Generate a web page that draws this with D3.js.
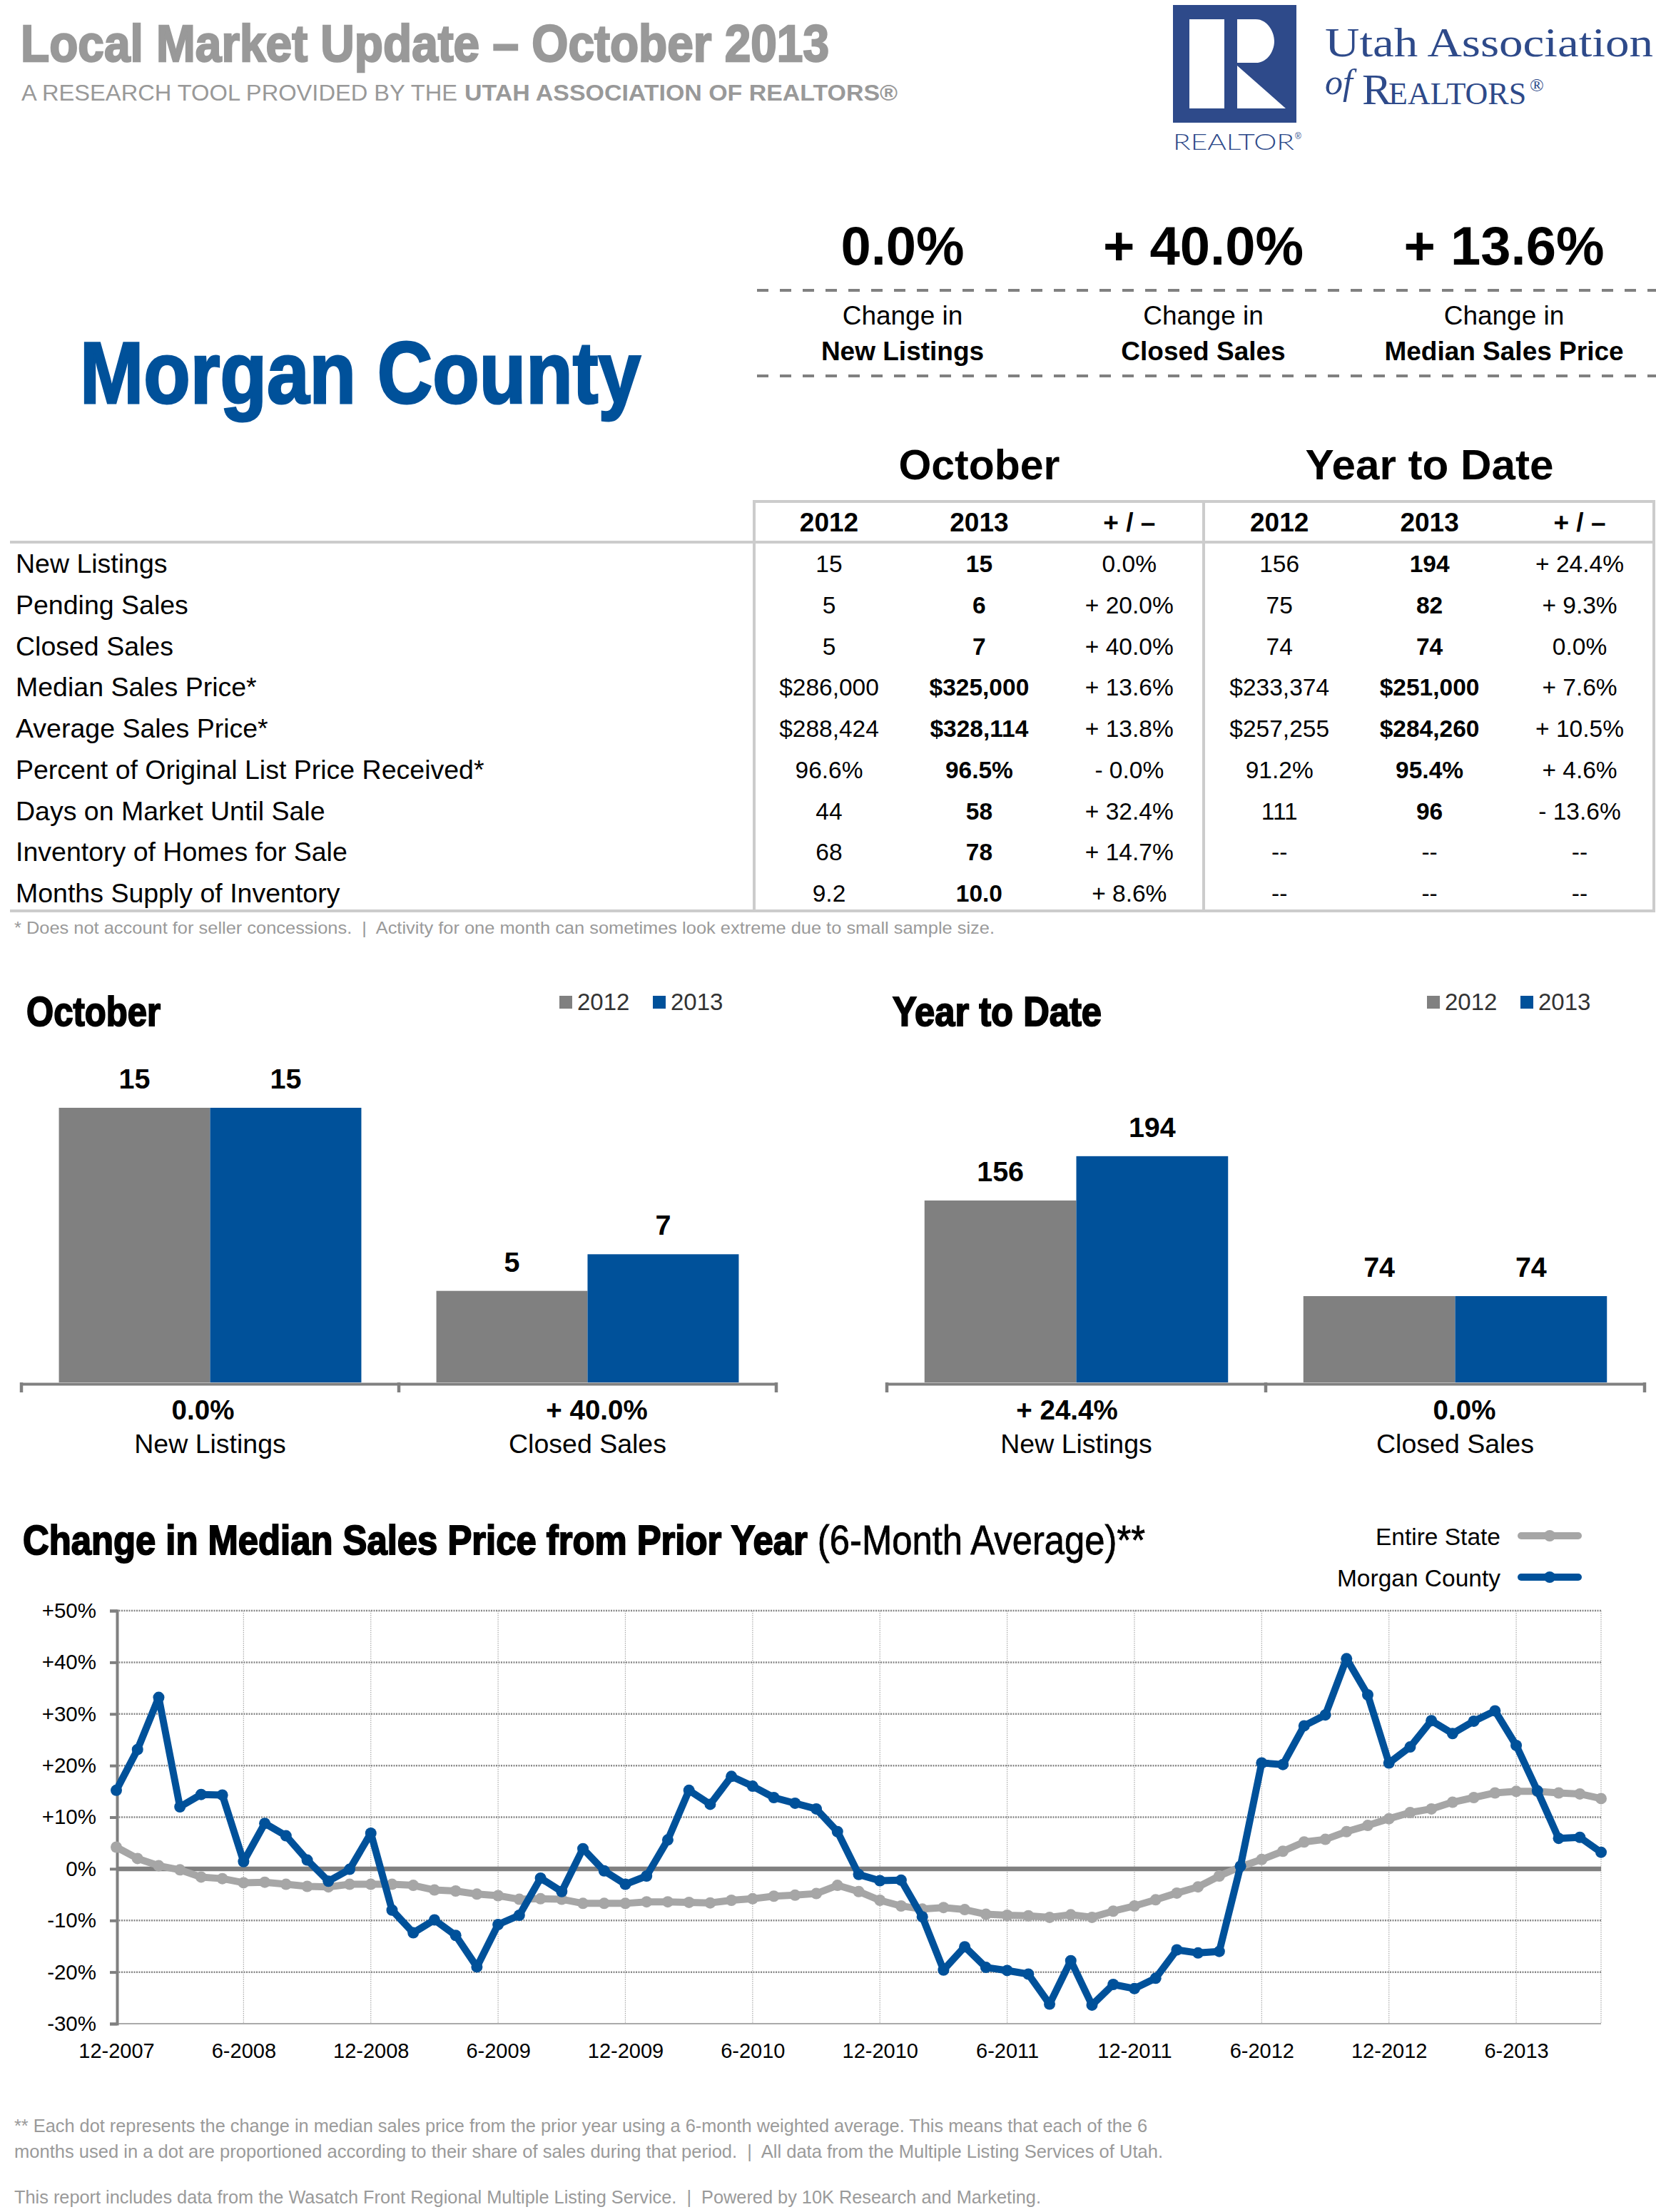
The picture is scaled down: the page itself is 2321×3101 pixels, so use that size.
<!DOCTYPE html>
<html>
<head>
<meta charset="utf-8">
<script src="https://cdn.jsdelivr.net/npm/d3@7"></script>
<style>
    html, body { margin: 0; padding: 0; background: #fff; }
    svg { display: block; }
    text { font-family: 'Liberation Sans', Arial, sans-serif; white-space: pre; }
</style>
</head>
<body>
<div id="page"></div>
<script>
// summary figures
const kpiValues = ['0.0%', '+ 40.0%', '+ 13.6%'];
const kpiLabels = ['New Listings', 'Closed Sales', 'Median Sales Price'];

// table columns
const rowLabels = ['New Listings', 'Pending Sales', 'Closed Sales', 'Median Sales Price*', 'Average Sales Price*',
    'Percent of Original List Price Received*', 'Days on Market Until Sale', 'Inventory of Homes for Sale', 'Months Supply of Inventory'];
const columnHeads = ['2012', '2013', '+ / –', '2012', '2013', '+ / –'];
const octPrev = ['15', '5', '5', '$286,000', '$288,424', '96.6%', '44', '68', '9.2'];
const octCur = ['15', '6', '7', '$325,000', '$328,114', '96.5%', '58', '78', '10.0'];
const octChange = ['0.0%', '+ 20.0%', '+ 40.0%', '+ 13.6%', '+ 13.8%', '- 0.0%', '+ 32.4%', '+ 14.7%', '+ 8.6%'];
const ytdPrev = ['156', '75', '74', '$233,374', '$257,255', '91.2%', '111', '--', '--'];
const ytdCur = ['194', '82', '74', '$251,000', '$284,260', '95.4%', '96', '--', '--'];
const ytdChange = ['+ 24.4%', '+ 9.3%', '0.0%', '+ 7.6%', '+ 10.5%', '+ 4.6%', '- 13.6%', '--', '--'];

// bar panels
const barCategories = ['New Listings', 'Closed Sales'];
const barYears = ['2012', '2013'];
const octBars2012 = [15, 5];
const octBars2013 = [15, 7];
const octBarChanges = ['0.0%', '+ 40.0%'];
const ytdBars2012 = [156, 74];
const ytdBars2013 = [194, 74];
const ytdBarChanges = ['+ 24.4%', '0.0%'];

// line chart, one value per month from 12-2007 to 10-2013
const stateChange = [4.2, 2.0, 0.6, -0.2, -1.6, -1.9, -2.7, -2.6, -3.0, -3.4, -3.5, -3.0,
    -3.0, -3.0, -3.2, -4.1, -4.3, -4.9, -5.2, -5.9, -5.8, -5.9, -6.7, -6.7,
    -6.7, -6.4, -6.4, -6.5, -6.6, -6.1, -5.8, -5.3, -5.1, -4.8, -3.2, -4.4,
    -6.1, -7.2, -7.8, -7.5, -7.9, -8.8, -9.0, -9.1, -9.4, -8.9, -9.4, -8.2,
    -7.2, -6.0, -4.7, -3.5, -1.4, 0.4, 1.8, 3.4, 5.2, 5.7, 7.2, 8.4,
    9.7, 10.9, 11.6, 12.9, 13.8, 14.7, 15.0, 15.0, 14.7, 14.5, 13.6];
const countyChange = [15.2, 23.1, 33.2, 12.0, 14.4, 14.3, 1.4, 8.8, 6.4, 1.7, -2.4, -0.1,
    6.9, -8.0, -12.4, -9.9, -12.9, -19.0, -10.8, -9.0, -1.8, -4.4, 3.9, -0.4,
    -3.0, -1.4, 5.6, 15.2, 12.5, 17.9, 16.0, 13.8, 12.7, 11.6, 7.2, -1.1,
    -2.3, -2.2, -9.3, -19.6, -15.1, -19.1, -19.7, -20.4, -26.2, -17.8, -26.4, -22.4,
    -23.2, -21.2, -15.7, -16.3, -16.0, 0.5, 20.5, 20.2, 27.7, 29.8, 40.7, 33.7,
    20.5, 23.6, 28.7, 26.2, 28.6, 30.6, 23.9, 15.1, 5.9, 6.1, 3.2];
const yTicks = [-30, -20, -10, 0, 10, 20, 30, 40, 50];
const xTickLabels = ['12-2007', '6-2008', '12-2008', '6-2009', '12-2009', '6-2010', '12-2010', '6-2011', '12-2011', '6-2012', '12-2012', '6-2013'];

const blue = '#00519a';
const gray = '#808080';
const lightGray = '#a6a6a6';
const noteGray = '#9a9a9a';
const logoBlue = '#2e4a8a';

const svg = d3.select('#page')
    .append('svg')
    .attr('width', 2321)
    .attr('height', 3101)
    .attr('viewBox', [0, 0, 2321, 3101]);

// squeeze a label to a set width, used for the condensed headline type
const label = (x, y, str, size, opts = {}) => {
    const t = svg.append('text')
        .attr('x', x)
        .attr('y', y)
        .attr('font-size', size)
        .attr('font-weight', opts.bold ? 'bold' : 'normal')
        .attr('text-anchor', opts.anchor || 'start')
        .attr('fill', opts.fill || '#000')
        .text(str);
    if (opts.family) t.style('font-family', opts.family);
    if (opts.italic) t.attr('font-style', 'italic');
    if (opts.width) t.attr('textLength', opts.width).attr('lengthAdjust', 'spacingAndGlyphs');
    if (opts.heavy) t.attr('stroke', opts.fill || '#000').attr('stroke-width', opts.heavy);
    return t;
};

// ---- header ----
label(29, 86, 'Local Market Update – October 2013', 73, { bold: true, fill: '#999', width: 1133, heavy: 2.5 });
label(30, 141, 'A RESEARCH TOOL PROVIDED BY THE', 32, { fill: '#999', width: 611 });
label(651, 141, 'UTAH ASSOCIATION OF REALTORS®', 32, { bold: true, fill: '#999', width: 607 });

// logo
svg.append('rect').attr('x', 1644).attr('y', 7).attr('width', 173).attr('height', 165).attr('fill', logoBlue);
svg.append('rect').attr('x', 1667).attr('y', 27).attr('width', 49).attr('height', 125).attr('fill', '#fff');
svg.append('path')
    .attr('d', 'M1734 27H1760C1776 27 1786 44 1786 58C1786 72 1776 88 1760 88H1734Z M1734 92L1802 152H1734Z')
    .attr('fill', '#fff');
label(1644, 210, 'REALTOR', 32, { fill: logoBlue, family: 'Lato', width: 170 }).attr('font-weight', 300);
label(1815, 195, '®', 12, { fill: logoBlue });
const serif = "'Liberation Serif', serif";
label(1857, 79, 'Utah Association', 58, { fill: logoBlue, family: serif, width: 460 });
label(1857, 132, 'of', 50, { fill: logoBlue, family: serif, italic: true });
label(1909, 146, 'R', 62, { fill: logoBlue, family: serif });
label(1946, 146, 'EALTORS', 44, { fill: logoBlue, family: serif });
label(2144, 128, '®', 26, { fill: logoBlue, family: serif });

// county name and summary
label(112, 565, 'Morgan County', 123, { bold: true, fill: blue, width: 786, heavy: 3 });

const kpiX = d3.scalePoint().domain(kpiLabels).range([1265, 2108]);
kpiLabels.forEach((d, i) => {
    label(kpiX(d), 371, kpiValues[i], 76, { bold: true, anchor: 'middle' });
    label(kpiX(d), 455, 'Change in', 37, { anchor: 'middle' });
    label(kpiX(d), 505, d, 37, { bold: true, anchor: 'middle' });
});
[407, 527].forEach((y) => {
    svg.append('line')
        .attr('x1', 1061).attr('x2', 2321).attr('y1', y).attr('y2', y)
        .attr('stroke', gray).attr('stroke-width', 4).attr('stroke-dasharray', '16 16');
});

// ---- table ----
const colX = d3.scalePoint().domain(d3.range(6)).range([1162, 2214]);
const rowY = d3.scalePoint().domain(rowLabels).range([802, 1264]);
const columns = [octPrev, octCur, octChange, ytdPrev, ytdCur, ytdChange];

label(colX(1), 672, 'October', 59, { bold: true, anchor: 'middle', width: 226 });
label(colX(4), 672, 'Year to Date', 59, { bold: true, anchor: 'middle', width: 348 });

const tableLine = (x1, y1, x2, y2) => svg.append('line')
    .attr('x1', x1).attr('y1', y1).attr('x2', x2).attr('y2', y2)
    .attr('stroke', '#ccc').attr('stroke-width', 4);
tableLine(1055, 703, 2319, 703);
tableLine(14, 760, 2319, 760);
tableLine(14, 1277, 2319, 1277);
[1057, 1687, 2318].forEach((x) => tableLine(x, 701, x, 1279));

columnHeads.forEach((d, i) => label(colX(i), 745, d, 37, { bold: true, anchor: 'middle' }));

rowLabels.forEach((d) => {
    label(22, rowY(d) + 1, d, 37.5);
});
columns.forEach((col, c) => {
    col.forEach((d, r) => {
        label(colX(c), rowY(rowLabels[r]), d, 33.5, { anchor: 'middle', bold: (c == 1 || c == 4) && d != '--' });
    });
});

label(20, 1309, '* Does not account for seller concessions.  |  Activity for one month can sometimes look extreme due to small sample size.', 24,
    { fill: noteGray, width: 1374 });

// ---- bar panels ----
const drawBars = (left, right, maxValue, values2012, values2013, changes, changeShift) => {
    const base = 1938;
    const x0 = d3.scaleBand().domain(barCategories).range([left, right]);
    const x1 = d3.scaleBand().domain(barYears).range([0, x0.bandwidth()]).paddingOuter(0.248);
    const y = d3.scaleLinear().domain([0, maxValue]).range([base, 1553]);
    const color = d3.scaleOrdinal().domain(barYears).range([gray, blue]);
    const rows = barCategories.flatMap((cat, i) => [
        { cat, year: '2012', val: values2012[i] },
        { cat, year: '2013', val: values2013[i] },
    ]);

    svg.append('g')
        .selectAll()
        .data(rows)
        .join('rect')
        .attr('x', (d) => x0(d.cat) + x1(d.year))
        .attr('y', (d) => y(d.val))
        .attr('width', x1.bandwidth())
        .attr('height', (d) => y(0) - y(d.val))
        .attr('fill', (d) => color(d.year));

    svg.append('g')
        .selectAll()
        .data(rows)
        .join('text')
        .attr('x', (d) => x0(d.cat) + x1(d.year) + x1.bandwidth() / 2)
        .attr('y', (d) => y(d.val) - 27)
        .attr('text-anchor', 'middle')
        .attr('font-size', 39.5)
        .attr('font-weight', 'bold')
        .text((d) => d.val);

    // category axis, ticks sit on the band edges
    const axis = svg.append('g')
        .attr('transform', `translate(0,${base + 2})`)
        .call(d3.axisBottom(x0).tickSize(0).tickFormat(''));
    axis.select('.domain').attr('stroke', gray).attr('stroke-width', 4);
    axis.selectAll('.tick').remove();
    [left, x0(barCategories[1]), right].forEach((x) => {
        svg.append('line')
            .attr('x1', x).attr('x2', x).attr('y1', base).attr('y2', base + 14)
            .attr('stroke', gray).attr('stroke-width', 4.5);
    });

    barCategories.forEach((cat, i) => {
        const cx = x0(cat) + x0.bandwidth() / 2;
        label(cx + changeShift[i], 1990, changes[i], 38.5, { bold: true, anchor: 'middle' });
        label(cx, 2037, cat, 37.5, { anchor: 'middle' });
    });
};

drawBars(30, 1088, 15, octBars2012, octBars2013, octBarChanges, [-10, 13]);
drawBars(1243, 2305, 235.5, ytdBars2012, ytdBars2013, ytdBarChanges, [-13, 13]);

label(37, 1438, 'October', 58, { bold: true, width: 188, heavy: 2 });
label(1251, 1438, 'Year to Date', 58, { bold: true, width: 293, heavy: 2 });

const barLegend = (x) => {
    barYears.forEach((d, i) => {
        const lx = x + i * 131;
        svg.append('rect').attr('x', lx).attr('y', 1396).attr('width', 18).attr('height', 18)
            .attr('fill', i == 0 ? gray : blue);
        label(lx + 25, 1416, d, 33, { fill: '#333' });
    });
};
barLegend(784);
barLegend(2000);

// ---- line chart ----
// one text element, the bold and regular parts share the squeeze
const chartTitle = label(32, 2179, '', 57, { width: 1573 });
chartTitle.append('tspan')
    .attr('font-weight', 'bold')
    .attr('stroke', '#000')
    .attr('stroke-width', 2)
    .text('Change in Median Sales Price from Prior Year ');
chartTitle.append('tspan')
    .attr('stroke', '#000')
    .attr('stroke-width', 0.8)
    .text('(6-Month Average)**');

const xLine = d3.scaleLinear().domain([0, stateChange.length - 1]).range([163, 2244]);
const yLine = d3.scaleLinear().domain([-30, 50]).range([2837, 2258]);
const xTickIndex = xTickLabels.map((d, i) => i * 6);

// grid first so the series sit on top
svg.append('g')
    .selectAll()
    .data(yTicks.filter((d) => d != 0 && d != -30))
    .join('line')
    .attr('x1', xLine(0)).attr('x2', xLine.range()[1])
    .attr('y1', (d) => yLine(d)).attr('y2', (d) => yLine(d))
    .attr('stroke', '#888').attr('stroke-width', 2.5).attr('stroke-dasharray', '2 1.5');
svg.append('g')
    .selectAll()
    .data(xTickIndex.slice(1).concat([stateChange.length - 1]))
    .join('line')
    .attr('x1', (d) => xLine(d)).attr('x2', (d) => xLine(d))
    .attr('y1', yLine(50)).attr('y2', yLine(-30))
    .attr('stroke', '#aaa').attr('stroke-width', 1.2).attr('stroke-dasharray', '1.5 1.5');
svg.append('line')
    .attr('x1', xLine(0)).attr('x2', xLine.range()[1])
    .attr('y1', yLine(-30)).attr('y2', yLine(-30))
    .attr('stroke', '#aaa').attr('stroke-width', 2);

const yAxis = svg.append('g')
    .attr('transform', `translate(${xLine(0) + 1},0)`)
    .call(d3.axisLeft(yLine).tickValues(yTicks).tickSize(10).tickPadding(19)
        .tickFormat((d) => (d > 0 ? `+${d}%` : `${d}%`)));
yAxis.select('.domain').attr('stroke', gray).attr('stroke-width', 4);
yAxis.selectAll('line').attr('stroke', gray).attr('stroke-width', 4);
yAxis.selectAll('text').attr('font-size', 29.5).attr('fill', '#000').style('font-family', "'Liberation Sans'");

const xAxis = svg.append('g')
    .attr('transform', `translate(0,${yLine(-30)})`)
    .call(d3.axisBottom(xLine).tickValues(xTickIndex).tickSize(0).tickPadding(27)
        .tickFormat((d, i) => xTickLabels[i]));
xAxis.select('.domain').remove();
xAxis.selectAll('text').attr('font-size', 29).attr('fill', '#000').style('font-family', "'Liberation Sans'");

svg.append('line')
    .attr('x1', xLine(0)).attr('x2', xLine.range()[1])
    .attr('y1', yLine(0)).attr('y2', yLine(0))
    .attr('stroke', gray).attr('stroke-width', 6.5);

const line = d3.line().x((d, i) => xLine(i)).y((d) => yLine(d));
const drawSeries = (values, color) => {
    svg.append('path')
        .datum(values)
        .attr('d', line)
        .attr('fill', 'none')
        .attr('stroke', color)
        .attr('stroke-width', 10)
        .attr('stroke-linejoin', 'round');
    svg.append('g')
        .selectAll()
        .data(values)
        .join('circle')
        .attr('cx', (d, i) => xLine(i))
        .attr('cy', (d) => yLine(d))
        .attr('r', 8)
        .attr('fill', color);
};
drawSeries(stateChange, lightGray);
drawSeries(countyChange, blue);

// series legend
[['Entire State', lightGray, 2166, 2153], ['Morgan County', blue, 2224, 2211]].forEach(([name, color, ty, ly]) => {
    label(2103, ty, name, 33.5, { anchor: 'end' });
    svg.append('line')
        .attr('x1', 2132).attr('x2', 2212).attr('y1', ly).attr('y2', ly)
        .attr('stroke', color).attr('stroke-width', 10).attr('stroke-linecap', 'round');
    svg.append('circle').attr('cx', 2172).attr('cy', ly).attr('r', 8).attr('fill', color);
});

// ---- footnotes ----
label(20, 2989, '** Each dot represents the change in median sales price from the prior year using a 6-month weighted average. This means that each of the 6', 25,
    { fill: noteGray, width: 1588 });
label(20, 3025, 'months used in a dot are proportioned according to their share of sales during that period.  |  All data from the Multiple Listing Services of Utah.', 25,
    { fill: noteGray, width: 1610 });
label(20, 3089, 'This report includes data from the Wasatch Front Regional Multiple Listing Service.  |  Powered by 10K Research and Marketing.', 25,
    { fill: noteGray, width: 1439 });
</script>
</body>
</html>
